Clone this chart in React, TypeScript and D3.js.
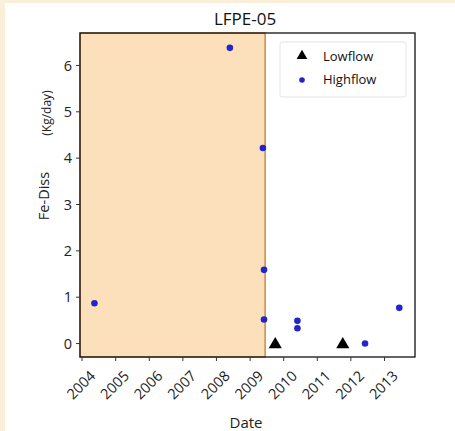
import React from "react";
import * as d3 from "d3";

const title = "LFPE-05";
const highflowDates = ["2004-05-15", "2008-05-26", "2009-05-20", "2009-06-01", "2009-06-01", "2010-05-30", "2010-05-30", "2012-06-03", "2013-06-10"];
const highflowValues = [0.87, 6.38, 4.22, 1.59, 0.52, 0.49, 0.33, 0.0, 0.77];
const lowflowDates = ["2009-10-01", "2011-10-05"];
const lowflowValues = [0.0, 0.0];
const shadeRange = ["2003-12-10", "2009-06-13"];
const xDomain = ["2003-12-10", "2013-11-28"];
const yTicks = [0, 1, 2, 3, 4, 5, 6];
const xTickYears = [2004, 2005, 2006, 2007, 2008, 2009, 2010, 2011, 2012, 2013];
const legendLabels = ["Lowflow", "Highflow"];

const W = 455, H = 431;
const M = { left: 80, right: 415, top: 33, bottom: 357 };
const FONT = "'Open Sans', 'DejaVu Sans', sans-serif";
const BLUE = "#2424cc";

export default function App() {
  const x = d3.scaleTime().domain(xDomain.map((d) => new Date(d))).range([M.left, M.right]);
  const y = d3.scaleLinear().domain([-0.29, 6.7]).range([M.bottom, M.top]);
  const tri = d3.symbol().type(d3.symbolTriangle).size(75)() as string;
  const triLeg = d3.symbol().type(d3.symbolTriangle).size(50)() as string;

  return (
    <svg width={W} height={H} style={{ position: "absolute", left: 0, top: 0 }}>
      <rect x={0} y={0} width={W} height={H} fill="#fcefd9" />
      <rect x={5} y={3} width={W - 5} height={H - 3} fill="#ffffff" />
      <text x={245} y={25} textAnchor="middle" fontFamily={FONT} fontSize={17} fill="#111">{title}</text>
      {/* shaded period */}
      <rect
        x={x(new Date(shadeRange[0]))}
        y={M.top}
        width={x(new Date(shadeRange[1])) - x(new Date(shadeRange[0]))}
        height={M.bottom - M.top}
        fill="#fbe0bb"
        stroke="#c97d22"
        strokeWidth={1.3}
      />
      {/* axes frame */}
      <rect x={M.left} y={M.top} width={M.right - M.left} height={M.bottom - M.top} fill="none" stroke="#111" strokeWidth={1.3} />
      {/* y ticks */}
      {yTicks.map((t) => (
        <g key={"y" + t}>
          <line x1={M.left - 4} x2={M.left} y1={y(t)} y2={y(t)} stroke="#333" strokeWidth={1} />
          <text x={M.left - 8} y={y(t)} dy="0.35em" textAnchor="end" fontFamily={FONT} fontSize={14.5} fill="#222">{t}</text>
        </g>
      ))}
      {/* x ticks */}
      {xTickYears.map((yr) => {
        const px = x(new Date(yr, 0, 1));
        return (
          <g key={"x" + yr}>
            <line x1={px} x2={px} y1={M.bottom} y2={M.bottom + 4} stroke="#333" strokeWidth={1} />
            <text
              transform={`translate(${px - 1},${M.bottom + 28}) rotate(-45)`}
              textAnchor="middle"
              dy="0.35em"
              fontFamily={FONT}
              fontSize={14.5}
              fill="#222"
            >{yr}</text>
          </g>
        );
      })}
      <text x={246} y={428} textAnchor="middle" fontFamily={FONT} fontSize={15} fill="#222">Date</text>
      <text transform={`translate(49,196) rotate(-90)`} textAnchor="middle" fontFamily={FONT} fontSize={14.5} fill="#222">Fe-Diss</text>
      <text transform={`translate(51,113) rotate(-90)`} textAnchor="middle" fontFamily={FONT} fontSize={12} fill="#222">(Kg/day)</text>
      {/* data */}
      {highflowDates.map((d, i) => (
        <circle key={"h" + i} cx={x(new Date(d))} cy={y(highflowValues[i])} r={3.3} fill={BLUE} />
      ))}
      {lowflowDates.map((d, i) => (
        <path key={"l" + i} d={tri} transform={`translate(${x(new Date(d))},${y(lowflowValues[i]) + 1})`} fill="#000" />
      ))}
      {/* legend */}
      <rect x={280} y={42} width={126} height={55} fill="#fff" stroke="#e4e4e4" strokeWidth={1} rx={2} />
      <path d={triLeg} transform="translate(302,56)" fill="#000" />
      <circle cx={302} cy={80} r={2.8} fill={BLUE} />
      <text x={323} y={56} dy="0.35em" fontFamily={FONT} fontSize={13} fill="#111">{legendLabels[0]}</text>
      <text x={323} y={79} dy="0.35em" fontFamily={FONT} fontSize={13} fill="#111">{legendLabels[1]}</text>
    </svg>
  );
}
